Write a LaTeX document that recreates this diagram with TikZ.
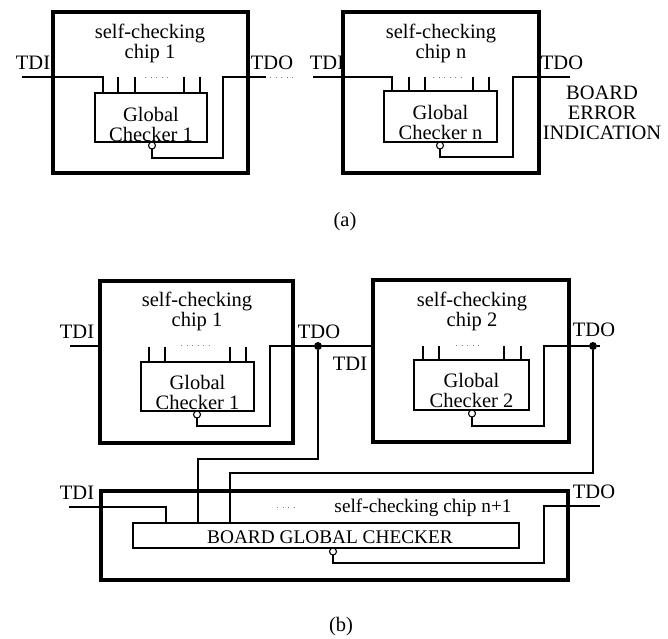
\documentclass[tikz,border=0pt]{standalone}
\usepackage{fontspec}
\setmainfont{Liberation Serif}
\newcommand{\txtfont}{\fontsize{20.5}{20}\selectfont}
\newcommand{\smfont}{\fontsize{19.3}{20}\selectfont}
\tikzset{
  chipbox/.style={draw, line width=3.2pt, inner sep=0pt, outer sep=0pt},
  checker/.style={draw, line width=1.3pt, inner sep=0pt, outer sep=0pt},
  lbl/.style={inner sep=0pt, align=center, font=\txtfont},
  wire/.style={line width=1.3pt},
  dotline/.style={line width=1pt, dash pattern=on 1.2pt off 4.3pt, black!50},
  inv/.style={circle, draw, fill=white, line width=1.1pt, inner sep=0pt, outer sep=0pt, minimum size=7pt},
  junct/.style={circle, fill=black, inner sep=0pt, minimum size=8pt},
}
\begin{document}
\begin{tikzpicture}[x=1pt,y=-1pt]
\useasboundingbox (0,0) rectangle (668,638);

% ---------------- (a) ----------------
% chip 1
\node[chipbox, minimum width=195pt, minimum height=161pt] (A1) at (150.5,92.5) {};
\node[lbl] (A1t) at (150,43) {self-checking\\chip 1};
\node[checker, minimum width=112pt, minimum height=49pt] (gA1) at (151,117.5) {};
\node[lbl] (gA1t) at (151,124) {Global\\Checker 1};
\node[inv] (bA1) at (152,145.5) {};
\node[lbl] (tdiA1) at (33,63) {TDI};
\coordinate (iA1) at (22,77);
\draw[wire] (iA1) -- (103,77) -- (103,0 |- gA1.north);
\foreach \x in {118,135,184,200} \draw[wire] (\x,77) -- (\x,0 |- gA1.north);
\draw[dotline] (145,77) -- (168,77);
\coordinate (oA1) at (266,77);
\draw[wire] (bA1.south) -- (152,158) -- (223,158) -- (223,77) -- (oA1);
\draw[dotline] (270,77) -- (294,77);
\node[lbl] (tdoA1) at (272,63) {TDO};

% chip n
\node[lbl] (tdiAn) at (327,63) {TDI};
\node[chipbox, minimum width=196pt, minimum height=161pt] (An) at (441,92.5) {};
\node[lbl] (Ant) at (441,43) {self-checking\\chip n};
\node[checker, minimum width=113pt, minimum height=51pt] (gAn) at (440.5,116.5) {};
\node[lbl] (gAnt) at (440.5,122) {Global\\Checker n};
\node[inv] (bAn) at (440,145.5) {};
\coordinate (iAn) at (313,77);
\draw[wire] (iAn) -- (392,77) -- (392,0 |- gAn.north);
\foreach \x in {409,425,473,489} \draw[wire] (\x,77) -- (\x,0 |- gAn.north);
\draw[dotline] (433,77) -- (461,77);
\coordinate (oAn) at (570,77);
\draw[wire] (bAn.south) -- (440,157) -- (513,157) -- (513,77) -- (oAn);
\node[lbl] (tdoAn) at (562,63) {TDO};
\node[lbl] (err) at (602,113) {BOARD\\ERROR\\INDICATION};

\node[lbl] (capa) at (345,222) {(a)};

% ---------------- (b) ----------------
% chip 1
\node[chipbox, minimum width=193pt, minimum height=162pt] (B1) at (196.5,362) {};
\node[lbl] (B1t) at (197,311) {self-checking\\chip 1};
\node[checker, minimum width=113pt, minimum height=49pt] (gB1) at (197.5,386.5) {};
\node[lbl] (gB1t) at (197.5,392) {Global\\Checker 1};
\node[inv] (bB1) at (197,414.5) {};
\node[lbl] (tdiB1) at (77,332) {TDI};
\coordinate (iB1) at (70,346);
\draw[wire] (iB1) -- (B1.west |- iB1);
\foreach \x in {149,165,230,246} \draw[wire] (\x,347) -- (\x,0 |- gB1.north);
\draw[dotline] (181,345) -- (214,345);
\node[junct] (jB1) at (318,346) {};
\node[lbl] (tdoB1) at (319,332) {TDO};
\node[lbl] (tdiB2) at (350,364) {TDI};

% chip 2
\node[chipbox, minimum width=196pt, minimum height=162pt] (B2) at (471,361) {};
\node[lbl] (B2t) at (472,311) {self-checking\\chip 2};
\node[checker, minimum width=115pt, minimum height=50pt] (gB2) at (471.5,385) {};
\node[lbl] (gB2t) at (471.5,390) {Global\\Checker 2};
\node[inv] (bB2) at (472,413.5) {};
\foreach \x in {423,439,504,521} \draw[wire] (\x,346) -- (\x,0 |- gB2.north);
\draw[dotline] (456,345) -- (480,345);
\node[junct] (jB2) at (593,346) {};
\coordinate (oB2) at (600,346);
\node[lbl] (tdoB2) at (594,330) {TDO};

\draw[wire] (bB1.south) -- (197,426) -- (270,426) -- (270,346) -- (jB1) -- (B2.west |- jB1);
\draw[wire] (bB2.south) -- (472,426) -- (544,426) -- (544,346) -- (jB2) -- (oB2);

% chip n+1 with the board checker
\node[chipbox, minimum width=467pt, minimum height=89pt] (Bn) at (334.5,535.5) {};
\node[checker, minimum width=386pt, minimum height=25pt] (gBn) at (326,535.5) {};
\node[lbl, font=\smfont] (gBnt) at (330,537) {BOARD GLOBAL CHECKER};
\node[lbl, font=\smfont] (Bnt) at (423,508) {self-checking chip n+1};
\draw[dotline] (277,507) -- (298,507);
\node[inv] (bBn) at (333,551.5) {};
\node[lbl] (tdiBn) at (77,493) {TDI};
\coordinate (iBn) at (69,507);
\draw[wire] (iBn) -- (166,507) -- (166,0 |- gBn.north);
\coordinate (oBn) at (600,506);
\draw[wire] (bBn.south) -- (333,563) -- (544,563) -- (544,506) -- (oBn);
\node[lbl] (tdoBn) at (594,492) {TDO};

% error lines from the chips to the board checker
\draw[wire] (jB1) -- (318,459) -- (198,459) -- (198,0 |- gBn.north);
\draw[wire] (jB2) -- (593,473) -- (230,473) -- (230,0 |- gBn.north);

\node[lbl] (capb) at (341,627) {(b)};
\end{tikzpicture}
\end{document}
